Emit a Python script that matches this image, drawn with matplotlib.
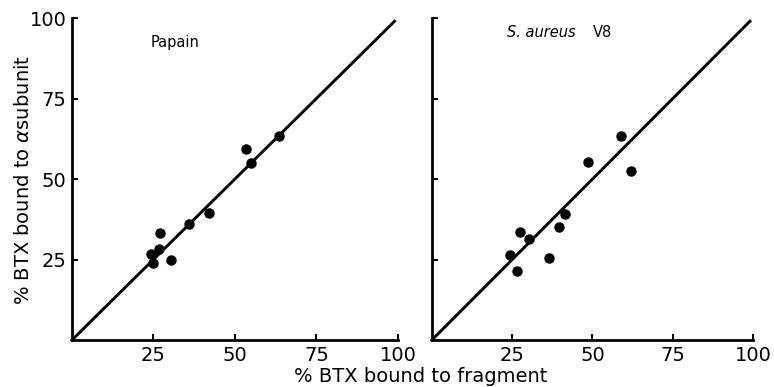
import matplotlib
matplotlib.use("Agg")
import matplotlib.pyplot as plt

plt.rcParams['font.family'] = ['DejaVu Sans']

# Papain digest
papain_x = [24.4, 24.9, 26.6, 27.0, 30.5, 35.9, 42.2, 53.3, 54.9, 63.5]
papain_y = [26.7, 23.8, 28.2, 33.2, 24.8, 36.0, 39.3, 59.2, 54.9, 63.5]

# S. aureus V8 digest
v8_x = [24.3, 26.5, 27.3, 30.3, 36.6, 39.5, 41.5, 48.6, 58.9, 62.0]
v8_y = [26.5, 21.5, 33.5, 31.5, 25.6, 35.1, 39.2, 55.3, 63.3, 52.6]

ticks = [25, 50, 75, 100]
line_end = 99

fig = plt.figure(figsize=(7.74, 3.87), dpi=100)
ax1 = fig.add_axes([0.093, 0.1214, 0.421, 0.832])
ax2 = fig.add_axes([0.558, 0.1214, 0.415, 0.832])

for ax, xs, ys in [(ax1, papain_x, papain_y), (ax2, v8_x, v8_y)]:
    ax.plot([0, line_end], [0, line_end], color='black', lw=2.1, clip_on=False)
    ax.plot(xs, ys, 'o', color='black', ms=6.5, clip_on=False)
    ax.set_xlim(0, 100)
    ax.set_ylim(0, 100)
    ax.set_xticks(ticks)
    ax.set_yticks(ticks)
    for s in ['top', 'right']:
        ax.spines[s].set_visible(False)
    for s in ['left', 'bottom']:
        ax.spines[s].set_linewidth(2.0)
    ax.tick_params(direction='in', length=4, width=1.4, labelsize=14, pad=4)

ax2.tick_params(axis='y', labelleft=False)

ax1.text(24, 91, 'Papain', fontsize=10.5)
ax2.text(23.5, 94, 'S. aureus', fontsize=10.5, style='italic')
ax2.text(50, 94, 'V8', fontsize=10.5)

fig.text(0.03, 0.535, r'% BTX bound to $\alpha$subunit', rotation=90,
         ha='center', va='center', fontsize=14)
fig.text(0.544, 0.028, '% BTX bound to fragment', ha='center', va='center',
         fontsize=14)

fig.savefig('out.png', dpi=100)
